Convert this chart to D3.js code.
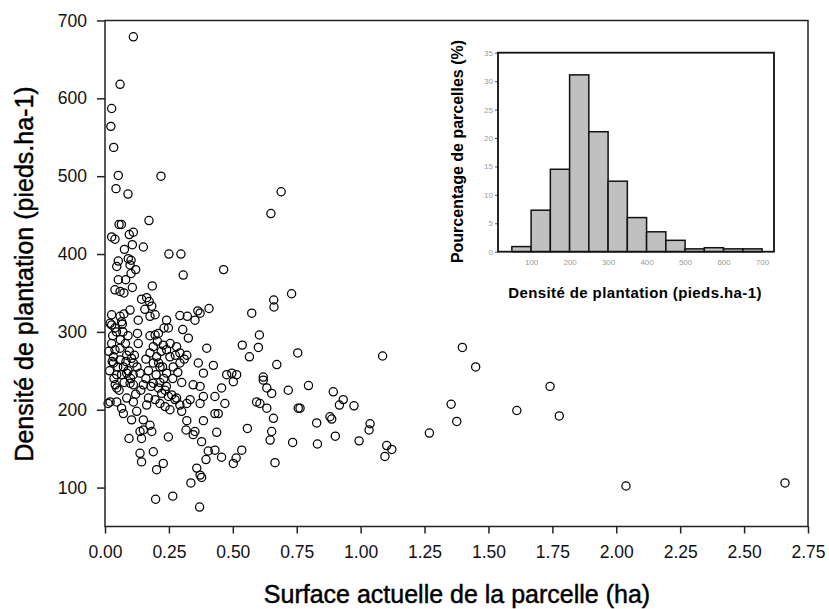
<!DOCTYPE html>
<html>
<head>
<meta charset="utf-8">
<script src="https://cdn.jsdelivr.net/npm/d3@7/dist/d3.min.js"></script>
<style>
  html, body { margin: 0; padding: 0; background: #fff; }
  svg { display: block; }
  text { font-family: "Liberation Sans", Arial, sans-serif; }
</style>
</head>
<body>
<svg id="chart" width="829" height="609"></svg>
<script>
// ---- Data ----
const surface = [
  0.111,0.059,0.026,0.023,0.034,0.052,0.219,0.043,0.090,0.689,
  0.649,0.055,0.064,0.172,0.026,0.039,0.095,0.111,0.107,0.150,
  0.076,0.250,0.297,0.052,0.091,0.102,0.046,0.098,0.120,0.306,
  0.464,0.052,0.081,0.102,0.185,0.107,0.039,0.059,0.074,0.143,
  0.163,0.173,0.183,0.156,0.730,0.660,0.661,0.574,0.407,0.363,
  0.372,0.352,0.293,0.322,0.241,0.231,0.248,0.196,0.026,0.020,
  0.039,0.026,0.059,0.065,0.074,0.098,0.130,0.176,0.127,0.176,
  0.196,0.209,0.304,0.326,0.398,0.537,0.600,0.604,0.565,0.672,
  0.754,0.619,0.424,0.365,0.385,0.476,0.496,0.515,0.026,0.039,
  0.059,0.033,0.059,0.085,0.104,0.033,0.072,0.111,0.137,0.046,
  0.085,0.189,0.176,0.202,0.228,0.241,0.254,0.280,0.293,0.189,
  0.215,0.241,0.267,0.293,0.320,0.046,0.098,0.111,0.150,0.189,
  0.209,0.222,0.235,0.248,0.261,0.274,0.293,0.320,0.345,0.372,
  0.385,0.372,0.430,0.456,0.469,0.502,0.619,0.633,0.652,0.717,
  0.756,0.593,0.606,0.633,0.659,0.652,0.646,0.734,0.665,0.557,
  0.535,0.513,0.502,0.456,0.430,0.404,0.395,0.437,0.385,0.378,
  0.352,0.345,0.317,0.320,0.359,0.372,0.378,0.336,0.265,0.198,
  0.370,0.228,0.202,0.137,0.143,0.189,0.094,0.143,0.137,0.150,
  0.183,0.176,0.150,0.124,0.104,0.072,0.065,0.020,0.046,0.111,
  0.163,0.196,0.215,0.235,0.254,0.300,0.248,0.430,0.443,0.333,
  1.086,1.398,1.450,0.796,0.763,0.893,0.932,0.917,0.880,0.887,
  0.974,0.828,1.037,1.033,0.831,0.901,0.994,1.102,1.122,1.095,
  1.269,1.354,1.376,1.611,1.741,1.777,2.038,2.660,
  0.012,0.030,0.045,0.060,0.070,0.080,0.090,0.050,0.065,0.075,
  0.090,0.100,0.115,0.125,0.130,0.140,0.160,0.170,0.180,0.200,
  0.210,0.220,0.230,0.240,0.255,0.265,0.275,0.285,0.160,0.170,
  0.120,0.110,0.035,0.055,0.085,0.095,0.205,0.215,0.225,0.300,
  0.310,0.280,0.015,0.028,0.018,0.040,0.068,0.082
];
const density = [
  679,618,587,564,537,501,500,484,477,480,
  452,438,438,443,422,419,425,428,412,409,
  406,400,400,391,394,392,384,386,380,373,
  380,367,367,375,359,357,354,352,350,342,
  344,339,333,329,349,341,332,324,330,327,
  324,315,321,320,315,305,305,322,322,311,
  305,309,320,313,323,328,315,320,298,295,
  296,298,303,292,279,283,280,296,268,258,
  273,242,257,260,247,245,247,245,285,277,
  279,268,264,270,266,260,255,260,247,245,
  247,281,273,268,283,277,268,281,273,260,
  255,247,255,260,270,228,234,232,232,234,
  228,221,225,217,219,213,206,208,232,230,
  217,208,217,228,208,236,238,228,221,225,
  202,210,208,202,189,172,161,158,132,176,
  148,138,131,139,148,147,136,171,186,159,
  172,168,174,186,125,116,113,106,89,85,
  75,131,123,144,133,146,163,163,172,174,
  172,180,187,198,187,195,202,210,210,210,
  206,213,208,204,200,198,165,195,195,213,
  269,280,255,231,202,223,213,206,191,188,
  205,183,182,174,156,166,160,154,149,140,
  170,207,185,199,230,192,102,106,
  208,295,300,290,300,285,295,255,245,235,
  250,240,270,255,285,225,240,250,230,245,
  260,275,240,230,285,240,270,248,265,215,
  220,245,240,225,215,275,288,235,255,235,
  265,215,275,262,250,232,310,262
];
const xTicks = [0, 0.25, 0.5, 0.75, 1.0, 1.25, 1.5, 1.75, 2.0, 2.25, 2.5, 2.75];
const yTicks = [100, 200, 300, 400, 500, 600, 700];

// inset histogram
const binStart = [50,100,150,200,250,300,350,400,450,500,550,600,650];
const binPct   = [0.9,7.3,14.5,31.1,21.1,12.4,6.0,3.5,2.0,0.5,0.7,0.5,0.5];
const histXTicks = [100,200,300,400,500,600,700];
const histYTicks = [0,5,10,15,20,25,30,35];

const xTitle = "Surface actuelle de la parcelle (ha)";
const yTitle = "Densité de plantation (pieds.ha-1)";
const histXTitle = "Densité de plantation (pieds.ha-1)";
const histYTitle = "Pourcentage de parcelles (%)";

// ---- Drawing ----
const svg = d3.select("#chart");
svg.append("rect").attr("width", 829).attr("height", 609).attr("fill", "#fff");

const x = d3.scaleLinear().domain([0, 2.75]).range([105, 808]);
const y = d3.scaleLinear().domain([50, 700]).range([526.5, 20.5]);

// points
const pts = surface.map((s, i) => ({s, d: density[i]}));
svg.append("g").selectAll("circle").data(pts).join("circle")
  .attr("cx", d => x(d.s)).attr("cy", d => y(d.d)).attr("r", 4.1)
  .attr("fill", "none").attr("stroke", "#000").attr("stroke-width", 1.25);

// axes
const gx = svg.append("g").attr("transform", `translate(0,${y.range()[0]})`)
  .call(d3.axisBottom(x).tickValues(xTicks).tickFormat(d3.format(".2f")).tickSize(7).tickPadding(12));
const gy = svg.append("g").attr("transform", `translate(${x.range()[0]},0)`)
  .call(d3.axisLeft(y).tickValues(yTicks).tickSize(8).tickPadding(10));
[gx, gy].forEach(g => {
  g.select(".domain").remove();
  g.selectAll(".tick line").attr("stroke", "#222").attr("stroke-width", 1.5);
  g.selectAll(".tick text").attr("fill", "#111")
    .style("font-size", "17.5px").style("font-family", "'Liberation Sans', Arial, sans-serif");
});

// frame
svg.append("rect")
  .attr("x", x.range()[0]).attr("y", y.range()[1])
  .attr("width", x.range()[1] - x.range()[0]).attr("height", y.range()[0] - y.range()[1])
  .attr("fill", "none").attr("stroke", "#222").attr("stroke-width", 1.5);

// titles
svg.append("text").attr("x", 457).attr("y", 603).attr("text-anchor", "middle")
  .style("font-size", "25px").attr("fill", "#000").attr("stroke", "#000").attr("stroke-width", 0.45)
  .text(xTitle);
svg.append("text").attr("transform", "translate(33,274) rotate(-90)").attr("text-anchor", "middle")
  .style("font-size", "25px").attr("fill", "#000").attr("stroke", "#000").attr("stroke-width", 0.45)
  .text(yTitle);

// ---- Inset histogram ----
const hx = d3.scaleLinear().domain([14, 731]).range([498, 774]);
const hy = d3.scaleLinear().domain([0, 35]).range([251.7, 52.7]);

const inset = svg.append("g");
inset.append("rect").attr("x", hx.range()[0]).attr("y", hy.range()[1])
  .attr("width", hx.range()[1] - hx.range()[0]).attr("height", hy.range()[0] - hy.range()[1])
  .attr("fill", "#fff");

const bins = binStart.map((b, i) => ({b, v: binPct[i]}));
inset.append("g").selectAll("rect").data(bins).join("rect")
  .attr("x", d => hx(d.b)).attr("width", d => hx(d.b + 50) - hx(d.b))
  .attr("y", d => hy(d.v)).attr("height", d => hy(0) - hy(d.v))
  .attr("fill", "#c0c0c0").attr("stroke", "#111").attr("stroke-width", 1.5);

const hgx = inset.append("g").attr("transform", `translate(0,${hy.range()[0]})`)
  .call(d3.axisBottom(hx).tickValues(histXTicks).tickSize(0).tickPadding(8));
const hgy = inset.append("g").attr("transform", `translate(${hx.range()[0]},0)`)
  .call(d3.axisLeft(hy).tickValues(histYTicks).tickSize(3).tickPadding(2));
[hgx, hgy].forEach(g => {
  g.select(".domain").remove();
  g.selectAll(".tick line").attr("stroke", "#555").attr("stroke-width", 1);
  g.selectAll(".tick text").attr("fill", "#9a9a9a")
    .style("font-size", "8px").style("font-family", "'Liberation Sans', Arial, sans-serif");
});

inset.append("rect").attr("x", hx.range()[0]).attr("y", hy.range()[1])
  .attr("width", hx.range()[1] - hx.range()[0]).attr("height", hy.range()[0] - hy.range()[1])
  .attr("fill", "none").attr("stroke", "#111").attr("stroke-width", 1.8);

inset.append("text").attr("x", 635).attr("y", 298).attr("text-anchor", "middle")
  .style("font-size", "15px").style("font-weight", "bold").style("letter-spacing", "0.4px")
  .attr("fill", "#000").text(histXTitle);
inset.append("text").attr("transform", "translate(463,151.5) rotate(-90)").attr("text-anchor", "middle")
  .style("font-size", "16px").style("font-weight", "bold")
  .attr("fill", "#000").text(histYTitle);
</script>
</body>
</html>
